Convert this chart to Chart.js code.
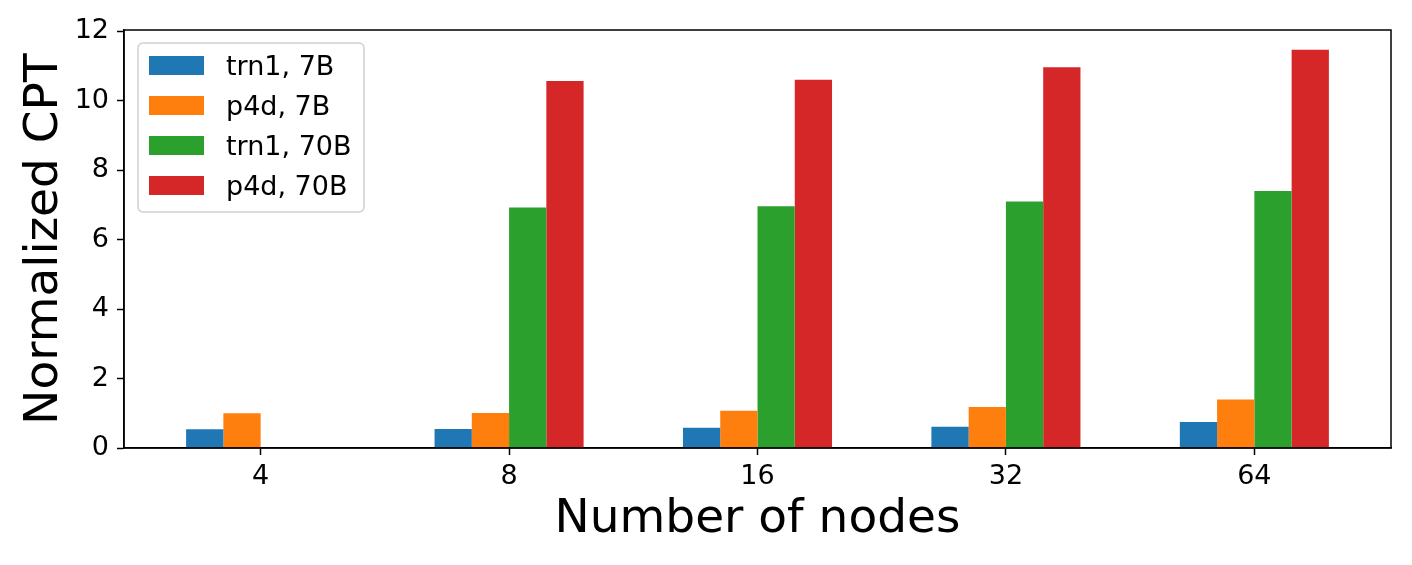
<!DOCTYPE html>
<html>
<head>
<meta charset="utf-8">
<script src="https://cdn.jsdelivr.net/npm/chart.js@4.4.0/dist/chart.umd.min.js"></script>
<style>
  html, body { margin: 0; padding: 0; background: #fff; }
</style>
</head>
<body>
<canvas id="chart" width="1412" height="565"></canvas>
<script>
// values
const nodes = ["4", "8", "16", "32", "64"];
const trn1_7B = [0.54, 0.55, 0.58, 0.61, 0.75];
const p4d_7B = [1.00, 1.01, 1.07, 1.18, 1.40];
const trn1_70B = [null, 6.93, 6.96, 7.10, 7.40];
const p4d_70B = [null, 10.57, 10.61, 10.97, 11.47];
const seriesNames = ["trn1, 7B", "p4d, 7B", "trn1, 70B", "p4d, 70B"];
const seriesColors = ["#1f77b4", "#ff7f0e", "#2ca02c", "#d62728"];
const yTicks = [0, 2, 4, 6, 8, 10, 12];

Chart.defaults.font.family = "'DejaVu Sans', sans-serif";
Chart.defaults.color = "#000";

const series = [trn1_7B, p4d_7B, trn1_70B, p4d_70B];
const datasets = series.map((vals, s) => ({
  label: seriesNames[s],
  data: vals.map((v, i) => ({ x: i, y: v })),
  backgroundColor: seriesColors[s],
  borderWidth: 0,
  categoryPercentage: 0.6,
  barPercentage: 1.0
}));

// full box round the plot, like matplotlib
const frame = {
  id: "frame",
  afterDatasetsDraw(chart) {
    const { ctx, chartArea: a } = chart;
    ctx.save();
    ctx.strokeStyle = "#000";
    ctx.lineWidth = 1.5;
    ctx.strokeRect(a.left, a.top, a.right - a.left, a.bottom - a.top);
    ctx.restore();
  }
};

// legend box in the upper left corner
const legendBox = {
  id: "legendBox",
  afterDraw(chart) {
    const { ctx, chartArea: a } = chart;
    const x0 = a.left + 14, y0 = a.top + 13;
    ctx.save();
    ctx.beginPath();
    ctx.roundRect(x0, y0, 226, 169, 5);
    ctx.fillStyle = "rgba(255,255,255,0.8)";
    ctx.fill();
    ctx.strokeStyle = "#d0d0d0";
    ctx.lineWidth = 1.5;
    ctx.stroke();
    ctx.font = "27px 'DejaVu Sans'";
    ctx.textBaseline = "alphabetic";
    ctx.textAlign = "left";
    chart.data.datasets.forEach((ds, i) => {
      const top = y0 + 13 + i * 40;
      ctx.fillStyle = ds.backgroundColor;
      ctx.fillRect(x0 + 11, top, 55, 19);
      ctx.fillStyle = "#000";
      ctx.fillText(ds.label, x0 + 88, top + 19);
    });
    ctx.restore();
  }
};

new Chart(document.getElementById("chart").getContext("2d"), {
  type: "bar",
  data: { datasets: datasets },
  plugins: [frame, legendBox],
  options: {
    responsive: false,
    animation: false,
    layout: { padding: { left: 0, right: 21, top: 30, bottom: 0 } },
    plugins: {
      legend: { display: false },
      tooltip: { enabled: false }
    },
    scales: {
      x: {
        type: "linear",
        min: -0.55,
        max: 4.55,
        offset: false,
        afterBuildTicks: axis => { axis.ticks = nodes.map((_, i) => ({ value: i })); },
        afterFit: scale => { scale.height = 117; },
        ticks: {
          callback: v => nodes[v],
          font: { size: 27 },
          color: "#000",
          padding: 6,
          maxRotation: 0,
          autoSkip: false
        },
        grid: { offset: false, drawOnChartArea: false, drawTicks: true, tickLength: 7, tickWidth: 1.5, tickColor: "#000" },
        border: { display: true, color: "#000", width: 1.5 },
        title: {
          display: true,
          text: "Number of nodes",
          font: { size: 47 },
          color: "#000",
          padding: { top: 0, bottom: 17 }
        }
      },
      y: {
        min: 0,
        max: 12.04,
        afterBuildTicks: axis => { axis.ticks = yTicks.map(v => ({ value: v })); },
        afterFit: scale => { scale.width = 124; },
        ticks: { font: { size: 27 }, color: "#000", padding: 8 },
        grid: { drawOnChartArea: false, drawTicks: true, tickLength: 7, tickWidth: 1.5, tickColor: "#000" },
        border: { display: true, color: "#000", width: 1.5 },
        title: {
          display: true,
          text: "Normalized CPT",
          font: { size: 47 },
          color: "#000",
          padding: { top: 17, bottom: 0 }
        }
      }
    }
  }
});
</script>
</body>
</html>
